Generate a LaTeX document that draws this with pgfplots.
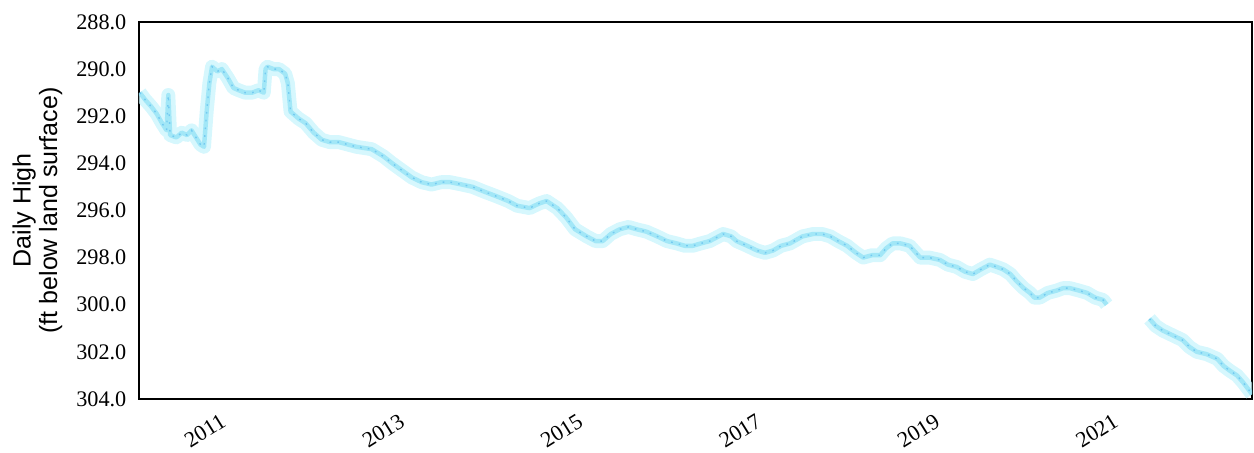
\documentclass[border=0pt]{standalone}
\usepackage{pgfplots}
\pgfplotsset{compat=1.18}
\usepackage{pgfplotstable}
\usepackage{fontspec}
\setmainfont{Liberation Serif}
\newfontfamily\labelfont{Liberation Sans}

\definecolor{levelglow}{RGB}{200,244,252}
\definecolor{levelline}{RGB}{145,226,246}
\definecolor{levelspeck}{RGB}{95,190,238}

\pgfplotstableread{
year level
2010.27 291.0
2010.33 291.3
2010.40 291.6
2010.46 291.9
2010.52 292.3
2010.57 292.6
2010.59 291.1
2010.61 292.8
2010.68 292.9
2010.74 292.7
2010.80 292.8
2010.85 292.6
2010.90 292.9
2010.95 293.2
2010.99 293.3
2011.02 291.8
2011.05 290.6
2011.08 289.9
2011.14 290.1
2011.19 290.0
2011.26 290.4
2011.32 290.8
2011.38 290.9
2011.45 291.0
2011.53 291.0
2011.60 290.9
2011.66 291.0
2011.68 290.0
2011.70 289.9
2011.77 290.0
2011.83 290.0
2011.90 290.2
2011.93 290.6
2011.96 291.8
2012.05 292.1
2012.13 292.3
2012.22 292.7
2012.31 293.0
2012.40 293.1
2012.50 293.1
2012.60 293.2
2012.70 293.3
2012.87 293.4
2013.00 293.7
2013.10 294.0
2013.21 294.3
2013.32 294.6
2013.43 294.8
2013.54 294.9
2013.65 294.8
2013.75 294.8
2013.88 294.9
2014.00 295.0
2014.13 295.2
2014.27 295.4
2014.40 295.6
2014.50 295.8
2014.64 295.9
2014.75 295.7
2014.83 295.6
2014.95 295.9
2015.05 296.3
2015.15 296.8
2015.28 297.1
2015.38 297.3
2015.46 297.3
2015.55 297.0
2015.65 296.8
2015.75 296.7
2015.84 296.8
2015.95 296.9
2016.07 297.1
2016.18 297.3
2016.29 297.4
2016.38 297.5
2016.47 297.5
2016.56 297.4
2016.66 297.3
2016.81 297.0
2016.90 297.1
2016.96 297.3
2017.08 297.5
2017.19 297.7
2017.28 297.8
2017.37 297.7
2017.46 297.5
2017.56 297.4
2017.70 297.1
2017.82 297.0
2017.92 297.0
2018.01 297.1
2018.10 297.3
2018.20 297.5
2018.30 297.8
2018.38 298.0
2018.48 297.9
2018.57 297.9
2018.64 297.6
2018.71 297.4
2018.80 297.4
2018.90 297.5
2019.02 298.0
2019.12 298.0
2019.24 298.1
2019.33 298.3
2019.43 298.4
2019.52 298.6
2019.61 298.7
2019.70 298.5
2019.80 298.3
2019.88 298.4
2019.95 298.5
2020.03 298.7
2020.10 299.0
2020.18 299.3
2020.25 299.5
2020.30 299.7
2020.36 299.7
2020.45 299.5
2020.55 299.4
2020.62 299.3
2020.70 299.3
2020.80 299.4
2020.89 299.5
2020.98 299.7
2021.07 299.8
2021.11 300.0
2021.30 nan
2021.59 300.6
2021.66 300.9
2021.74 301.1
2021.85 301.3
2021.96 301.5
2022.04 301.8
2022.12 302.0
2022.23 302.1
2022.35 302.3
2022.42 302.6
2022.49 302.8
2022.57 303.0
2022.64 303.3
2022.70 303.6
2022.74 303.8
}\dailyhigh

\begin{document}
\begin{tikzpicture}
\begin{axis}[
    scale only axis,
    width=400.7pt,
    height=135.7pt,
    xmin=2010.26, xmax=2022.74,
    ymin=288, ymax=304,
    y dir=reverse,
    axis line style={black, line width=0.8pt},
    major tick length=0pt,
    xtick={2011,2013,2015,2017,2019,2021},
    ytick={288,290,...,304},
    x tick label style={/pgf/number format/1000 sep={}},
    xticklabel style={yshift=-11.5pt, rotate=32, anchor=center, font=\fontsize{8}{9}\selectfont},
    yticklabel style={/pgf/number format/fixed, /pgf/number format/fixed zerofill,
        /pgf/number format/precision=1, xshift=-1pt, font=\fontsize{8}{9}\selectfont},
    /pgf/number format/assume math mode=true,
    ylabel={Daily High\\(ft below land surface)},
    ylabel style={align=center, at={(axis description cs:-0.060,0.5)}, anchor=south,
        font=\labelfont\fontsize{9}{9.5}\selectfont},
    unbounded coords=jump,
  ]
  \addplot[levelglow, line width=5pt, opacity=0.75, line join=round] table[x=year, y=level] {\dailyhigh};
  \addplot[levelline, line width=1.6pt, opacity=0.75, line join=round] table[x=year, y=level] {\dailyhigh};
  \addplot[levelspeck, line width=0.5pt, dash pattern=on 0.6pt off 2.2pt, opacity=0.7] table[x=year, y=level] {\dailyhigh};
\end{axis}
\pgfresetboundingbox
\path[use as bounding box] ([xshift=-50pt,yshift=-19.4pt]current axis.south west)
  rectangle ([xshift=0.7pt,yshift=7.9pt]current axis.north east);
\end{tikzpicture}
\end{document}
